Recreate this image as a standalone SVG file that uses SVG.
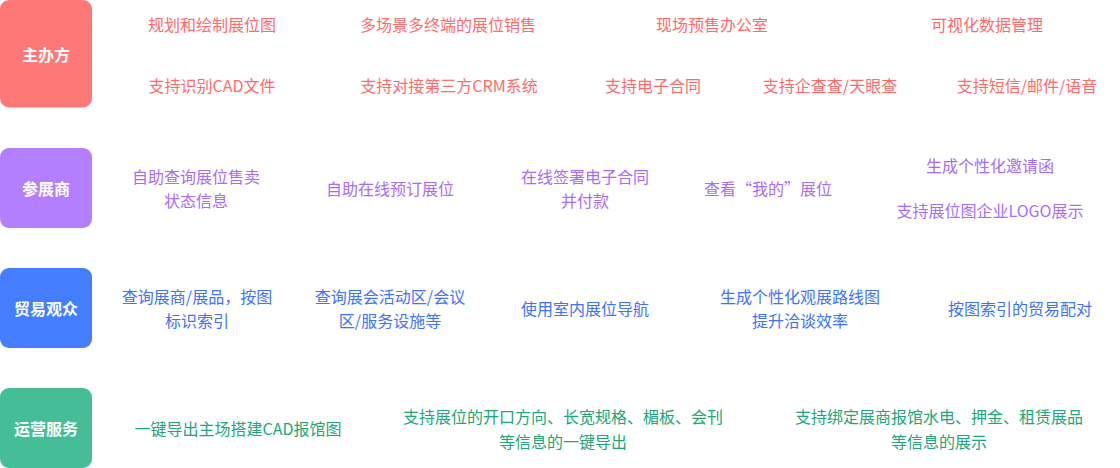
<svg xmlns="http://www.w3.org/2000/svg" width="1120" height="468" viewBox="0 0 1120 468">
<style>
text{font-family:"Noto Sans CJK SC","Microsoft YaHei","Noto Sans",sans-serif;font-size:16px;text-anchor:middle;dominant-baseline:central}
.lbl{fill:#fff;font-weight:bold}
.r{fill:#FF6B6B}
.p{fill:#A66CFF}
.b{fill:#3E72FF}
.g{fill:#22A676}
</style>
<rect width="1120" height="468" fill="#fff"/>
<g id="connectors"/>
<g id="row-host">
<rect x="0" y="0" width="92" height="107.5" rx="9" fill="#FF7878"/>
<text class="lbl" x="46" y="54">主办方</text>
<text class="r" x="212" y="24">规划和绘制展位图</text>
<text class="r" x="448" y="24">多场景多终端的展位销售</text>
<text class="r" x="712" y="24">现场预售办公室</text>
<text class="r" x="987" y="24">可视化数据管理</text>
<text class="r" x="212" y="85">支持识别CAD文件</text>
<text class="r" x="449" y="85">支持对接第三方CRM系统</text>
<text class="r" x="653" y="85">支持电子合同</text>
<text class="r" x="830" y="85">支持企查查/天眼查</text>
<text class="r" x="1027" y="85">支持短信/邮件/语音</text>
</g>
<g id="row-exhibitor">
<rect x="0" y="148" width="92" height="80" rx="9" fill="#B37FFF"/>
<text class="lbl" x="46" y="188">参展商</text>
<text class="p" x="196" y="176">自助查询展位售卖</text>
<text class="p" x="196" y="200">状态信息</text>
<text class="p" x="390" y="188">自助在线预订展位</text>
<text class="p" x="585" y="176">在线签署电子合同</text>
<text class="p" x="585" y="200">并付款</text>
<text class="p" x="768" y="188">查看“我的”展位</text>
<text class="p" x="990" y="165">生成个性化邀请函</text>
<text class="p" x="990" y="210">支持展位图企业LOGO展示</text>
</g>
<g id="row-visitor">
<rect x="0" y="268" width="92" height="80" rx="9" fill="#447DFF"/>
<text class="lbl" x="46" y="308">贸易观众</text>
<text class="b" x="197" y="296">查询展商/展品，按图</text>
<text class="b" x="197" y="320">标识索引</text>
<text class="b" x="390" y="296">查询展会活动区/会议</text>
<text class="b" x="390" y="320">区/服务设施等</text>
<text class="b" x="585" y="308">使用室内展位导航</text>
<text class="b" x="800" y="296">生成个性化观展路线图</text>
<text class="b" x="800" y="320">提升洽谈效率</text>
<text class="b" x="1020" y="308">按图索引的贸易配对</text>
</g>
<g id="row-operation">
<rect x="0" y="388" width="92" height="80" rx="9" fill="#45BE97"/>
<text class="lbl" x="46" y="428">运营服务</text>
<text class="g" x="238" y="428">一键导出主场搭建CAD报馆图</text>
<text class="g" x="563" y="416">支持展位的开口方向、长宽规格、楣板、会刊</text>
<text class="g" x="563" y="441">等信息的一键导出</text>
<text class="g" x="939" y="416">支持绑定展商报馆水电、押金、租赁展品</text>
<text class="g" x="939" y="441">等信息的展示</text>
</g>
</svg>
